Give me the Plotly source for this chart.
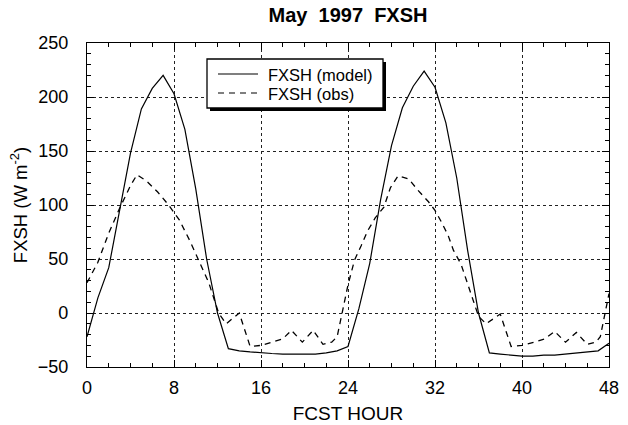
import plotly.graph_objects as go

# ---- data ----
model_hours = list(range(0, 49))
model_flux = [-22, 14, 42, 95, 148, 189, 208, 220, 203, 170, 115, 50, 0, -33,
              -35, -36, -37, -37.5, -38, -38, -38, -38, -37, -35, -31,
              4, 46, 105, 155, 190, 210, 224, 209, 176, 125, 58, 0, -37,
              -38, -39, -40, -40, -39, -39, -38, -37.5, -36, -35, -28]

obs_hours = [0, 1, 2, 3, 4, 4.6, 5.5, 6.5, 7.5, 8.5, 9.5, 10.4, 11.2, 12.1, 12.8,
             14, 15, 16, 17, 18, 18.8, 19.8, 20.8, 21.7, 22.5, 23, 24,
             24.6, 25.2, 25.8, 26.5, 27.3, 27.9, 28.6, 29.6, 30.4, 31.4, 32, 32.6,
             33.2, 33.7, 34.4, 35.3, 36, 36.7, 38, 39, 40, 41.1, 42.1, 43, 44,
             45, 46, 46.8, 47.2, 48]
obs_flux = [28, 47, 74, 97, 118, 128, 122, 112, 100, 86, 66, 45, 28, 0, -10,
            0, -31, -30, -27, -24, -16, -27, -16, -29, -27, -22, 26,
            49, 62, 76, 88, 98, 116, 127, 124, 114, 103, 95, 84,
            72, 58, 45, 18, -3, -10, -1, -31, -30, -27, -24, -17, -27,
            -18, -29, -27, -22, 18]

series_names = ["FXSH (model)", "FXSH (obs)"]
x_ticks = [0, 8, 16, 24, 32, 40, 48]
y_ticks = [-50, 0, 50, 100, 150, 200, 250]

FONT = "Liberation Sans, Arial, Helvetica, sans-serif"
OBS_DASH = "6px,5px"

fig = go.Figure()
fig.add_trace(go.Scatter(x=model_hours, y=model_flux, mode="lines",
                         name=series_names[0], showlegend=False,
                         line=dict(color="black", width=1.2)))
fig.add_trace(go.Scatter(x=obs_hours, y=obs_flux, mode="lines",
                         name=series_names[1], showlegend=False,
                         line=dict(color="black", width=1.3, dash=OBS_DASH)))

L, R, T, B = 87, 19, 43, 58
W, H = 628, 425
pw, ph = W - L - R, H - T - B

def px2paper(xp, yp):
    return (xp - L) / pw, (H - B - yp) / ph

# ---- legend box (drawn by hand, with a drop shadow) ----
bx0, by0, bx1, by1 = 207, 59, 383, 108
s = 3
x0, y0 = px2paper(bx0 + s, by0 + s)
x1, y1 = px2paper(bx1 + s, by1 + s)
fig.add_shape(type="rect", xref="paper", yref="paper", x0=x0, x1=x1, y0=y1, y1=y0,
              fillcolor="black", line=dict(width=0), layer="above")
x0, y0 = px2paper(bx0, by0)
x1, y1 = px2paper(bx1, by1)
fig.add_shape(type="rect", xref="paper", yref="paper", x0=x0, x1=x1, y0=y1, y1=y0,
              fillcolor="white", line=dict(color="black", width=1.3), layer="above")

rows_y = [74, 93]
dashes = [None, OBS_DASH]
for name, ry, dsh in zip(series_names, rows_y, dashes):
    lx0, ly = px2paper(218, ry)
    lx1, _ = px2paper(258, ry)
    ln = dict(color="black", width=1.2)
    if dsh:
        ln["dash"] = dsh
    fig.add_shape(type="line", xref="paper", yref="paper", x0=lx0, x1=lx1, y0=ly, y1=ly,
                  line=ln, layer="above")
    tx, ty = px2paper(266, ry + 1)
    fig.add_annotation(x=tx, y=ty, xref="paper", yref="paper", text=name,
                       showarrow=False, xanchor="left", yanchor="middle",
                       font=dict(family=FONT, size=16.5, color="black"))

axis_common = dict(
    showline=True, linecolor="black", linewidth=1.2, mirror="ticks",
    ticks="inside", ticklen=7, tickcolor="black", tickwidth=1,
    showgrid=True, gridcolor="#222222", gridwidth=0.7, griddash="dot",
    zeroline=False, automargin=False,
    tickfont=dict(family=FONT, size=18, color="black"),
)

fig.update_layout(
    width=W, height=H,
    margin=dict(l=L, r=R, t=T, b=B),
    paper_bgcolor="white", plot_bgcolor="white",
    title=dict(text="<b>May  1997  FXSH</b>", x=(L + pw / 2) / W, xanchor="center",
               y=1 - 15 / H, yanchor="middle",
               font=dict(family=FONT, size=20, color="black")),
    xaxis=dict(range=[0, 48], tickvals=x_ticks, ticklabelstandoff=4,
               minor=dict(dtick=2, ticks="inside", ticklen=4, tickcolor="black", showgrid=False),
               title=dict(text="FCST HOUR", standoff=9,
                          font=dict(family=FONT, size=19, color="black")),
               **axis_common),
    yaxis=dict(range=[-50, 250], tickvals=y_ticks, ticklabelstandoff=14,
               minor=dict(dtick=10, ticks="inside", ticklen=4, tickcolor="black", showgrid=False),
               title=dict(text="FXSH (W m<sup>-2</sup>)", standoff=5,
                          font=dict(family=FONT, size=18.5, color="black")),
               **axis_common),
    showlegend=False,
)

fig.write_html("out.html")
